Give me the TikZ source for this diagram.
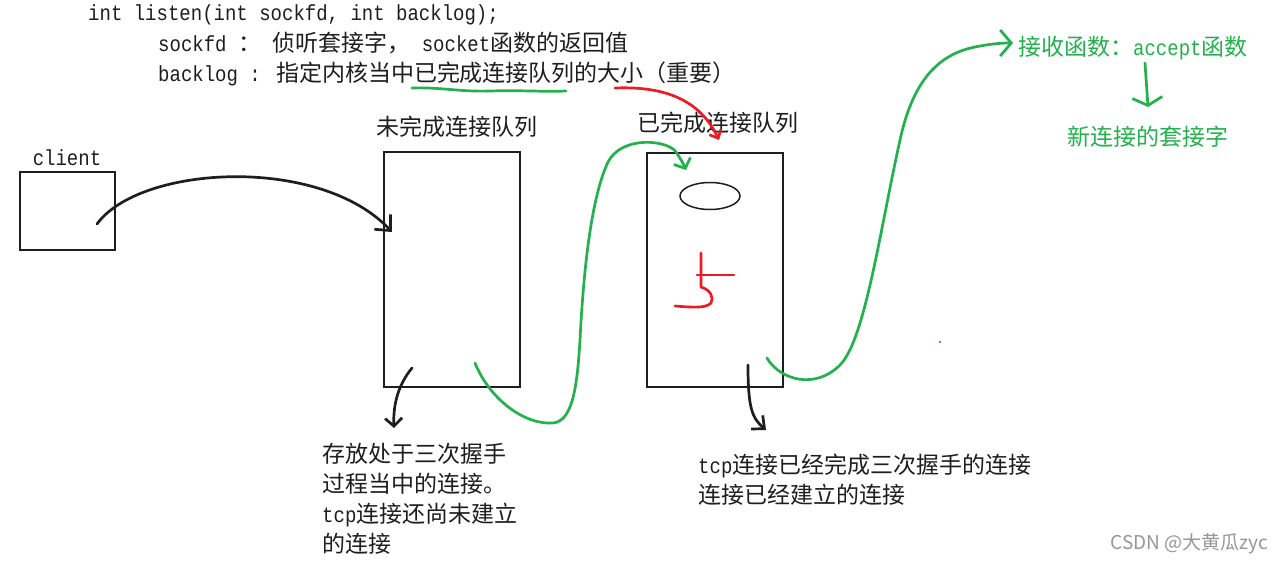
\documentclass[tikz,border=0pt]{standalone}
\usepackage{fontspec}
\usetikzlibrary{arrows.meta,shapes.geometric}
\newfontfamily\codefont{Liberation Mono}[Scale=1.15, FakeStretch=0.87]
\newfontfamily\cjk{Noto Sans CJK SC}[Scale=1.21]
\newcommand{\zh}[1]{{\cjk #1}}
\definecolor{ink}{RGB}{30,30,30}
\definecolor{pgreen}{RGB}{34,177,76}
\definecolor{pred}{RGB}{237,28,36}
\definecolor{wmgray}{RGB}{150,150,150}

\tikzset{
  txt/.style={inner sep=0pt, text=ink, font=\codefont\fontsize{19}{30}\selectfont},
  queue/.style={draw=ink, line width=1.5pt, inner sep=0pt},
  pen/.style={line width=2.7pt, line cap=round, line join=round},
}

\begin{document}
\begin{tikzpicture}[x=1pt,y=-1pt]
  \useasboundingbox (0,0) rectangle (1283,563);
  \fill[white] (0,0) rectangle (1283,563);

  % listen() header
  \node[txt, anchor=base west] (sig) at (88,20)  {int listen(int sockfd, int backlog);};
  \node[txt, anchor=base west] (fd)  at (158,51) {sockfd \zh{：} \zh{侦听套接字，} socket\zh{函数的返回值}};
  \node[txt, anchor=base west] (bl)  at (158,81) {backlog : \zh{指定内核当中已完成连接队列的大小（重要）}};

  % queues
  \node[queue, minimum width=95pt, minimum height=78pt]   (client) at (67.5,211) {};
  \node[txt, anchor=base] (clientlbl) at (67,165) {client};
  \node[queue, minimum width=136pt, minimum height=235pt] (syn) at (452,269.5) {};
  \node[txt, anchor=base] (synlbl) at (457,135) {\zh{未完成连接队列}};
  \node[queue, minimum width=136pt, minimum height=234pt] (acc) at (715,270) {};
  \node[txt, anchor=base] (acclbl) at (718,131) {\zh{已完成连接队列}};
  \node[draw=ink, line width=1.5pt, ellipse, inner sep=0pt,
        minimum width=60pt, minimum height=27pt] (conn) at (710,196) {};

  \node[txt, anchor=north west, align=left] (synnote) at (322,443)
    {\zh{存放处于三次握手}\\\zh{过程当中的连接。}\\tcp\zh{连接还尚未建立}\\\zh{的连接}};
  \node[txt, anchor=north west, align=left] (accnote) at (698,454)
    {tcp\zh{连接已经完成三次握手的连接}\\\zh{连接已经建立的连接}};

  \node[txt, text=pgreen, anchor=base west] (accept) at (1018,55) {\zh{接收函数：}accept\zh{函数}};
  \node[txt, text=pgreen, anchor=base] (newfd) at (1148,145) {\zh{新连接的套接字}};

  \node[inner sep=0pt, anchor=base east, text=wmgray, font=\cjk\fontsize{15.7}{18}\selectfont]
    (csdn) at (1268,549) {CSDN @大黄瓜zyc};

  % hand drawn arrows
  \coordinate (c0) at (97,224);
  \coordinate (c1) at (392,232);
  \draw[pen, ink, -{Straight Barb[length=12pt,width=22pt]}]
    (c0) .. controls (140,165) and (320,155) .. (c1);

  \coordinate (s0) at (412,368);
  \coordinate (s1) at (394,428);
  \draw[pen, ink, -{Straight Barb[length=8pt,width=17pt]}]
    (s0) .. controls (398,385) and (393,405) .. (s1);

  \coordinate (a0) at (748,365);
  \coordinate (a1) at (766,430);
  \draw[pen, ink, -{Straight Barb[length=10pt,width=18pt]}]
    (a0) .. controls (748,408) and (752,418) .. (a1);

  \coordinate (g0) at (475,363);
  \coordinate (g1) at (686,170);
  \draw[pen, pgreen, -{Straight Barb[length=8pt,width=18pt]}]
    (g0) .. controls (490,400) and (525,425) .. (553,423)
         .. controls (572,421) and (577,390) .. (580,340)
         .. controls (583,280) and (590,200) .. (608,162)
         .. controls (622,135) and (668,140) .. (676,152)
         .. controls (680,158) and (683,163) .. (g1);

  \coordinate (g2) at (767,358);
  \coordinate (g3) at (1013,43);
  \draw[pen, pgreen, -{Straight Barb[length=11pt,width=26pt]}]
    (g2) .. controls (780,380) and (815,390) .. (840,365)
         .. controls (865,340) and (880,230) .. (900,140)
         .. controls (912,85) and (935,55) .. (975,47)
         .. controls (990,44) and (1000,43) .. (g3);

  \coordinate (n0) at (1145,63);
  \coordinate (n1) at (1148,107);
  \draw[pen, pgreen, -{Straight Barb[length=8pt,width=30pt]}] (n0) -- (n1);

  \coordinate (r0) at (615,88);
  \coordinate (r1) at (719,140);
  \draw[pen, pred, -{Straight Barb[length=7pt,width=13pt]}]
    (r0) .. controls (665,86) and (700,100) .. (r1);

  % underline and the 5
  \draw[pen, pgreen] (412,88) .. controls (440,87) and (460,92) .. (490,91)
                              .. controls (520,90) and (545,92) .. (566,91);
  \draw[pen, pred] (701,253) -- (701,287) .. controls (711,290) and (714,298) .. (711,303)
                   .. controls (706,309) and (688,307) .. (675,306);
  \draw[pen, pred] (697,275) -- (734,275);
  \fill[pred] (940,342) circle (1.2);
\end{tikzpicture}
\end{document}
